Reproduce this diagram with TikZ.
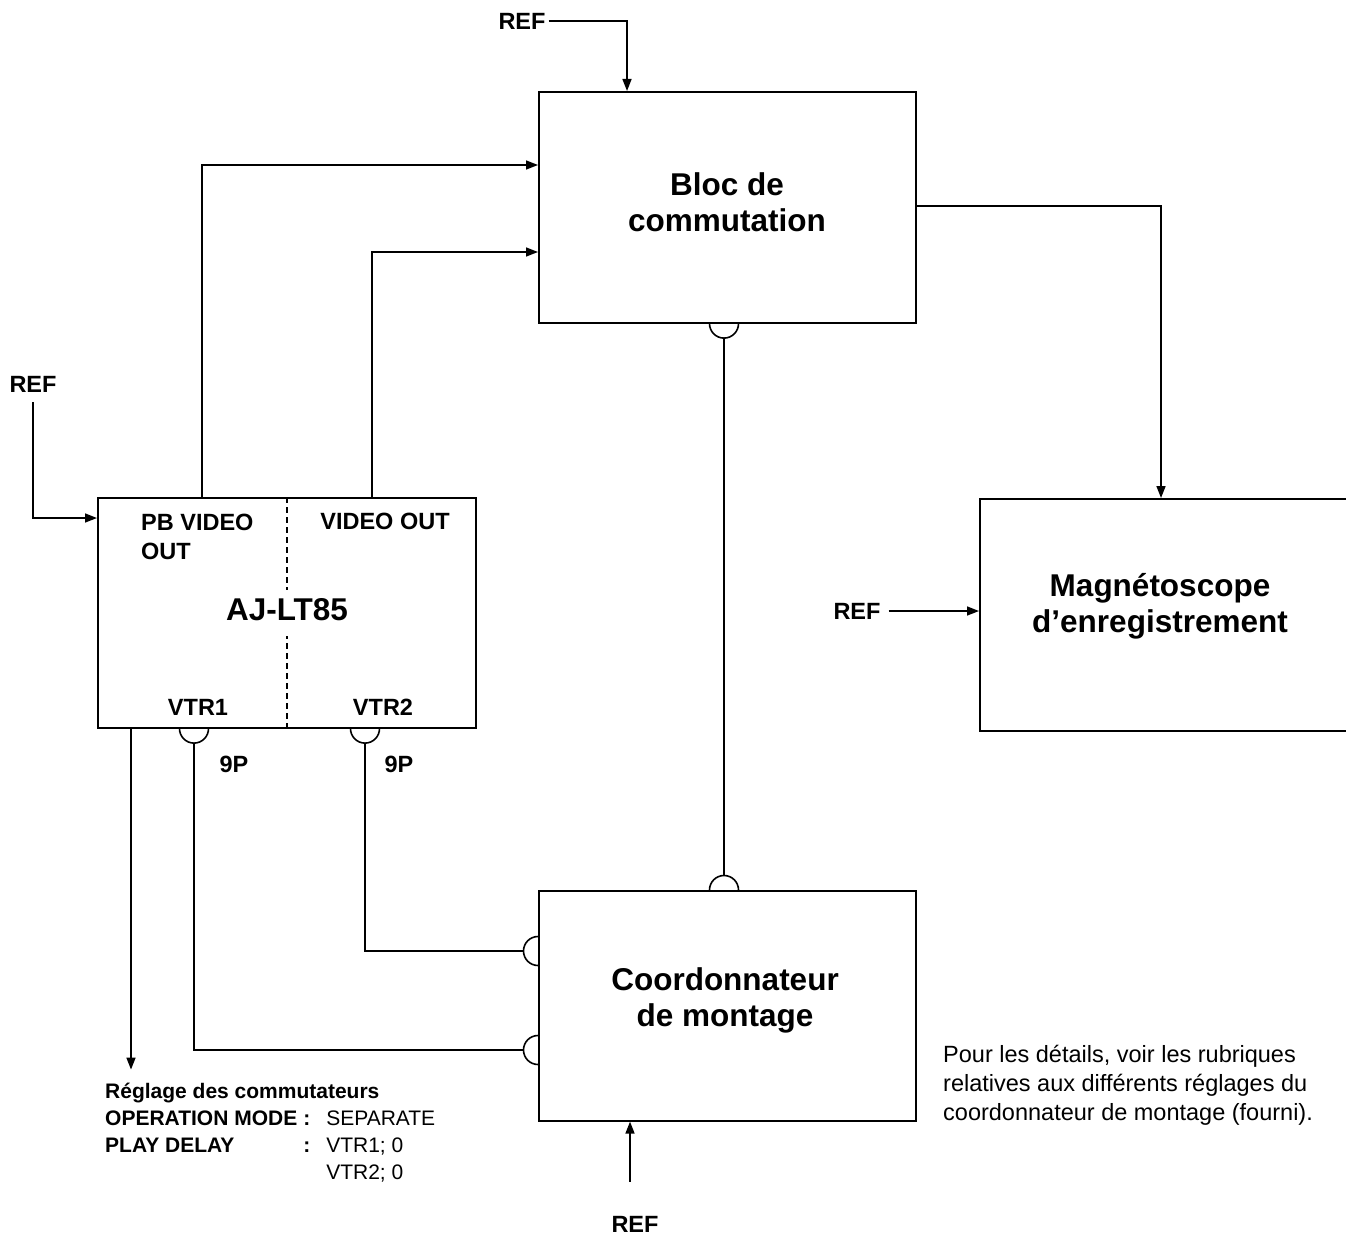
\documentclass[tikz,border=0pt]{standalone}
\usepackage{fontspec}
\setmainfont{Liberation Sans}
\usetikzlibrary{arrows.meta,calc}
\begin{document}
\begin{tikzpicture}[x=1pt,y=-1pt,
  box/.style={draw,line width=1.6pt,inner sep=0pt,anchor=north west},
  conn/.style={line width=1.6pt},
  arr/.style={conn,-{Triangle[length=12pt,width=9pt]}},
  divider/.style={line width=1.2pt,dash pattern=on 6pt off 4pt},
  lbl/.style={font=\fontsize{23.5}{28}\selectfont\bfseries,inner sep=0pt},
  ttl/.style={font=\fontsize{31.5}{36}\selectfont\bfseries,align=center,inner sep=0pt},
  note/.style={font=\fontsize{23.5}{29}\selectfont,align=left,inner sep=0pt},
  settings/.style={font=\fontsize{21}{27}\selectfont,inner sep=0pt}]
\useasboundingbox[fill=white] (0,0) rectangle (1346,1236);

% boxes
\node[box,minimum width=377pt,minimum height=231pt] (bloc) at (538,91) {};
\node[box,minimum width=378pt,minimum height=230pt] (aj) at (97,497) {};
\node[box,minimum width=395pt,minimum height=232pt] (mag) at (979,498) {};
\node[box,minimum width=377pt,minimum height=230pt] (coord) at (538,890) {};

% titles
\node[ttl] (bloct) at (727,202) {Bloc de\\commutation};
\node[ttl] (magt) at (1160,606) {Magnétoscope\\d’enregistrement};
\node[ttl] (coordt) at (725,1000) {Coordonnateur\\de montage};
\node[ttl] (ajt) at (287,610) {AJ-LT85};

% divider in AJ-LT85 (broken around the title)
\coordinate (dtop) at ($(aj.north west)+(190,0)$);
\coordinate (dbot) at ($(aj.south west)+(190,0)$);
\draw[divider] (dtop) -- (dtop |- 0,590);
\draw[divider] (dbot) -- (dbot |- 0,636);

% labels
\node[lbl,anchor=base west] (pbv) at (141,530) {PB VIDEO};
\node[lbl,anchor=base west] (pbo) at (141,559) {OUT};
\node[lbl,anchor=base] (vout) at (385,529) {VIDEO OUT};
\node[lbl,anchor=base] (vtr1) at (198,715) {VTR1};
\node[lbl,anchor=base] (vtr2) at (383,715) {VTR2};
\node[lbl,anchor=base] (p1) at (234,772) {9P};
\node[lbl,anchor=base] (p2) at (399,772) {9P};
\node[lbl] (reftop) at (522,21) {REF};
\node[lbl] (refleft) at (33,384) {REF};
\node[lbl] (refmid) at (857,611) {REF};
\node[lbl] (refbot) at (635,1224) {REF};

% REF arrows
\draw[arr] ($(reftop.east)+(3,0)$) -| ($(bloc.north west)+(89,0)$);
\draw[arr] ($(refleft.south)+(0,10)$) |- ($(aj.north west)+(0,21)$);
\draw[arr] ($(refmid.east)+(8,0)$) -- (refmid.east -| mag.west);
\coordinate (rb) at ($(coord.south west)+(92,60)$);
\draw[arr] (rb) -- ($(coord.south west)+(92,0)$);

% video connections
\draw[arr] ($(aj.north west)+(105,0)$) |- ($(bloc.north west)+(0,74)$);
\draw[arr] ($(aj.north west)+(275,0)$) |- ($(bloc.north west)+(0,161)$);
\draw[arr] ($(bloc.north east)+(0,115)$) -| ($(mag.north west)+(182,0)$);

% switch settings arrow
\coordinate (setend) at ($(aj.south west)+(34,341)$);
\draw[arr] ($(aj.south west)+(34,0)$) -- (setend);

% 9P connectors
\coordinate (cb) at ($(bloc.south west)+(186,0)$);
\coordinate (cd) at ($(coord.north west)+(186,0)$);
\draw[conn] ($(cb)+(-14.5,0)$) arc[start angle=180,end angle=0,radius=14.5];
\draw[conn] ($(cd)+(-14.5,0)$) arc[start angle=180,end angle=360,radius=14.5];
\draw[conn] ($(cb)+(0,14.5)$) -- ($(cd)+(0,-14.5)$);

\coordinate (v1) at ($(aj.south west)+(97,0)$);
\coordinate (v2) at ($(aj.south west)+(268,0)$);
\coordinate (c1) at ($(coord.north west)+(0,160)$);
\coordinate (c2) at ($(coord.north west)+(0,61)$);
\draw[conn] ($(v1)+(-14.5,0)$) arc[start angle=180,end angle=0,radius=14.5];
\draw[conn] ($(v2)+(-14.5,0)$) arc[start angle=180,end angle=0,radius=14.5];
\draw[conn] ($(c1)+(0,-14.5)$) arc[start angle=270,end angle=90,radius=14.5];
\draw[conn] ($(c2)+(0,-14.5)$) arc[start angle=270,end angle=90,radius=14.5];
\draw[conn] ($(v1)+(0,14.5)$) |- ($(c1)+(-14.5,0)$);
\draw[conn] ($(v2)+(0,14.5)$) |- ($(c2)+(-14.5,0)$);

% texts
\node[note,anchor=north west] (note) at (943,1045) {Pour les détails, voir les rubriques\\relatives aux différents réglages du\\coordonnateur de montage (fourni).};
\node[settings,anchor=north west] (set) at (105,1079) {\begin{tabular}{@{}l@{\hspace{6pt}}l@{\hspace{16pt}}l@{}}
\multicolumn{3}{@{}l@{}}{\bfseries Réglage des commutateurs}\\
\bfseries OPERATION MODE & \bfseries : & SEPARATE\\
\bfseries PLAY DELAY & \bfseries : & VTR1; 0\\
 & & VTR2; 0
\end{tabular}};
\end{tikzpicture}
\end{document}
